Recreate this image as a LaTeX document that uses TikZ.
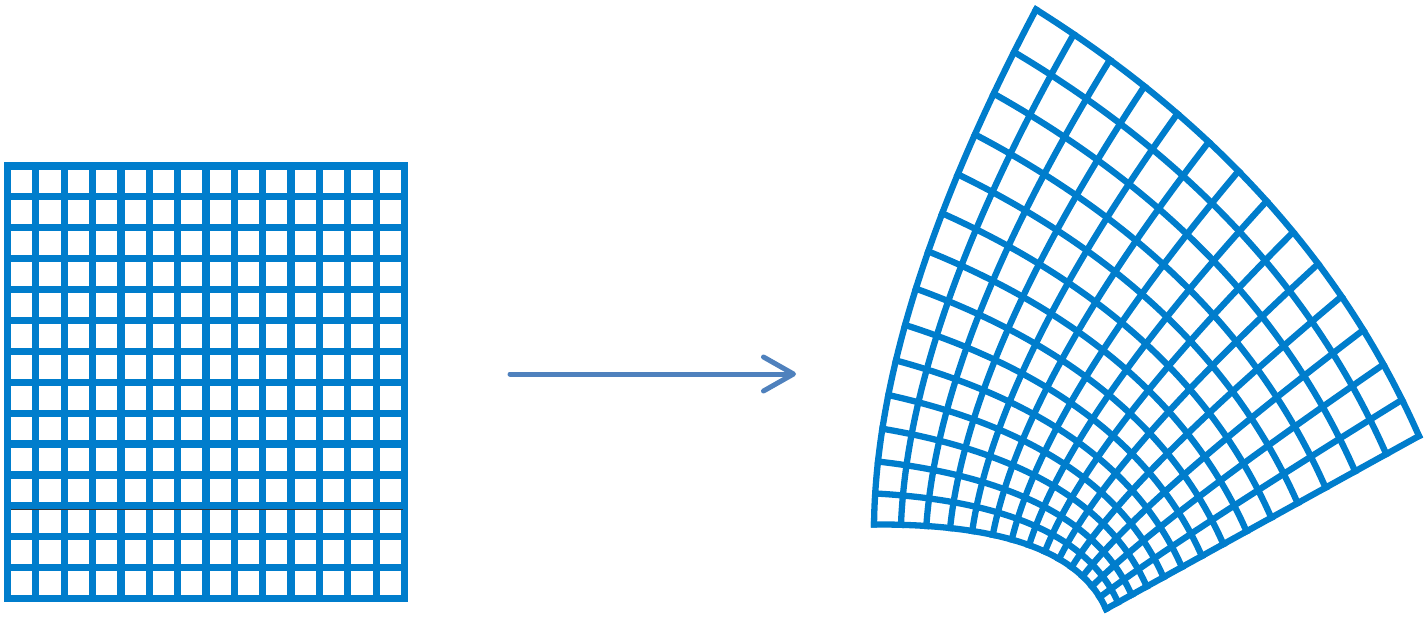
\documentclass[tikz,border=0pt]{standalone}
\usetikzlibrary{arrows.meta}
\definecolor{gridblue}{RGB}{0,125,204}
\definecolor{arrowblue}{RGB}{79,129,189}
\tikzset{
  leftgrid/.style={draw=gridblue, line width=7.2pt, line cap=rect},
  rightgrid/.style={draw=gridblue, line width=6.3pt, line cap=rect, line join=round},
  seam/.style={draw=black!80, line width=0.9pt},
  maparrow/.style={draw=arrowblue, line width=5pt, line cap=round,
    -{Straight Barb[length=30pt,width=34pt,round]}}
}
\begin{document}
\begin{tikzpicture}[x=1pt,y=-1pt,
  declare function={
    mu(\a,\b)=(0.5+\a)*(0.5+\a)-\b*\b-0.25;
    mv(\a,\b)=2*(0.5+\a)*\b;
    mx(\a,\b)=1106+156.5*mu(\a,\b)-75.5*mv(\a,\b);
    my(\a,\b)=609-86.5*mu(\a,\b)-171*mv(\a,\b);
  }]
\useasboundingbox (0,0) rectangle (1427,618);

% left: square grid 14 x 14
\foreach \i in {0,...,14} {
  \draw[leftgrid] ({7.5+\i*28.357},166) -- ({7.5+\i*28.357},598.5);
  \draw[leftgrid] (7.5,{166+\i*30.893}) -- (404.5,{166+\i*30.893});
}
\draw[seam] (11,509) -- (403,509);

% arrow
\coordinate (arrowtail) at (510,374);
\coordinate (arrowtip) at (796,374);
\draw[maparrow] (arrowtail) -- (arrowtip);

% right: image of the grid under w = z^2
\foreach \i in {0,...,14} {
  \pgfmathsetmacro\p{\i/14}
  \draw[rightgrid] plot[smooth, domain=0:1, samples=36, variable=\t]
    ({mx(\p,\t)},{my(\p,\t)});
  \draw[rightgrid] plot[smooth, domain=0:1, samples=36, variable=\t]
    ({mx(\t,\p)},{my(\t,\p)});
}
\end{tikzpicture}
\end{document}
